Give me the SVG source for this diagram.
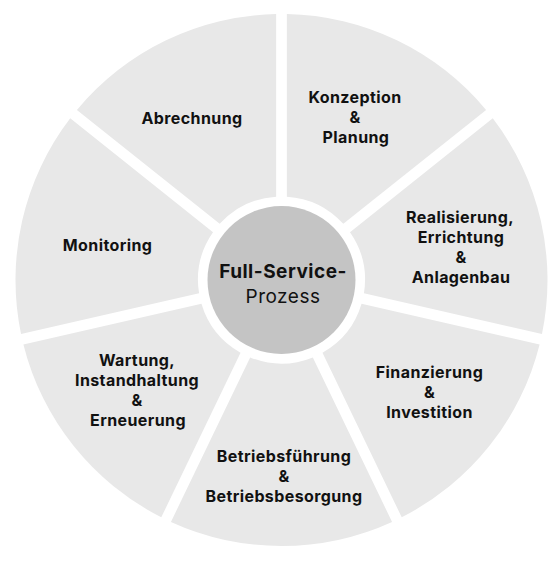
<svg xmlns="http://www.w3.org/2000/svg" width="560" height="562" viewBox="0 0 560 562">
<style>
.seg{fill:#e8e8e8}
.lbl{font-family:Inter,"Liberation Sans",sans-serif;font-weight:700;font-size:16px;fill:#111;text-anchor:middle;letter-spacing:0.4px}
.ctr{font-family:Inter,"Liberation Sans",sans-serif;font-size:19px;fill:#111;text-anchor:middle;letter-spacing:0.5px}
</style>
<rect width="560" height="562" fill="#fff"/>
<g id="connectors"></g>
<g id="konzeption">
<path class="seg" d="M286.85,14.05 A266,266 0 0 1 486.09,110.00 L343.31,223.86 A83.5,83.5 0 0 0 286.85,196.67 Z"/>
<text class="lbl"><tspan x="355" y="102.7">Konzeption</tspan><tspan x="355" y="122.7">&amp;</tspan><tspan x="356" y="142.7">Planung</tspan></text>
</g>
<g id="realisierung">
<path class="seg" d="M492.77,118.36 A266,266 0 0 1 541.97,333.96 L363.93,293.32 A83.5,83.5 0 0 0 349.99,232.22 Z"/>
<text class="lbl"><tspan x="460" y="223.3">Realisierung,</tspan><tspan x="461" y="243">Errichtung</tspan><tspan x="461" y="262.8">&amp;</tspan><tspan x="461" y="282.6">Anlagenbau</tspan></text>
</g>
<g id="finanzierung">
<path class="seg" d="M539.59,344.40 A266,266 0 0 1 401.71,517.29 L322.48,352.76 A83.5,83.5 0 0 0 361.55,303.76 Z"/>
<text class="lbl"><tspan x="429.5" y="378">Finanzierung</tspan><tspan x="429.5" y="398">&amp;</tspan><tspan x="429.5" y="418">Investition</tspan></text>
</g>
<g id="betriebsfuehrung">
<path class="seg" d="M392.07,521.93 A266,266 0 0 1 170.93,521.93 L250.16,357.40 A83.5,83.5 0 0 0 312.84,357.40 Z"/>
<text class="lbl"><tspan x="284" y="462.3">Betriebsführung</tspan><tspan x="284" y="482">&amp;</tspan><tspan x="284" y="501.5">Betriebsbesorgung</tspan></text>
</g>
<g id="wartung">
<path class="seg" d="M161.29,517.29 A266,266 0 0 1 23.41,344.40 L201.45,303.76 A83.5,83.5 0 0 0 240.52,352.76 Z"/>
<text class="lbl"><tspan x="137" y="366">Wartung,</tspan><tspan x="137" y="386">Instandhaltung</tspan><tspan x="137" y="406">&amp;</tspan><tspan x="138" y="426">Erneuerung</tspan></text>
</g>
<g id="monitoring">
<path class="seg" d="M21.03,333.96 A266,266 0 0 1 70.23,118.36 L213.01,232.22 A83.5,83.5 0 0 0 199.07,293.32 Z"/>
<text class="lbl"><tspan x="107.6" y="251">Monitoring</tspan></text>
</g>
<g id="abrechnung">
<path class="seg" d="M76.91,110.00 A266,266 0 0 1 276.15,14.05 L276.15,196.67 A83.5,83.5 0 0 0 219.69,223.86 Z"/>
<text class="lbl"><tspan x="192" y="123.8">Abrechnung</tspan></text>
</g>
<g id="center">
<circle cx="281.5" cy="280" r="74" fill="#c4c4c4"/>
<text class="ctr"><tspan x="283" y="278.3" font-weight="700">Full-Service-</tspan><tspan x="283" y="303.3" font-weight="400">Prozess</tspan></text>
</g>
</svg>
